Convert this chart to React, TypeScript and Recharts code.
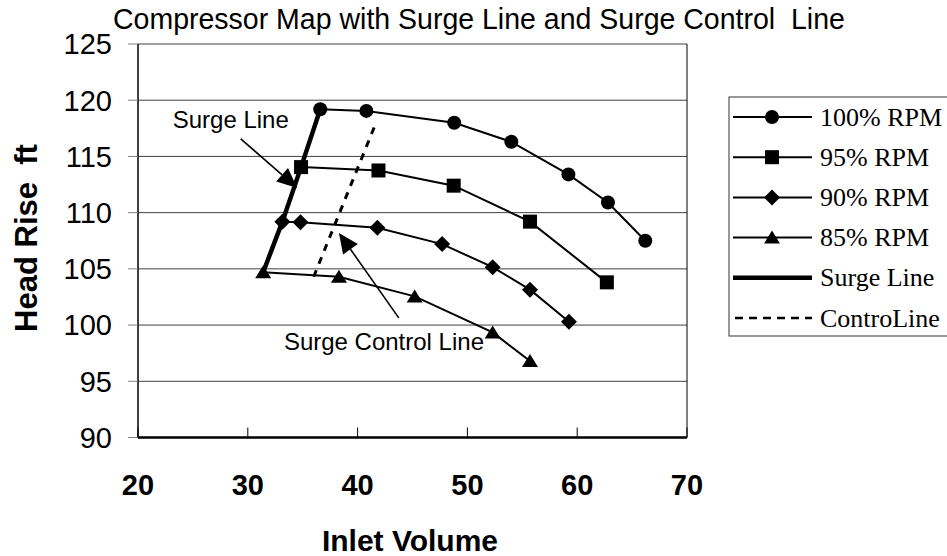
import React from "react";
import {
  CartesianGrid,
  ComposedChart,
  Line,
  ReferenceDot,
  ReferenceLine,
  XAxis,
  YAxis,
} from "recharts";

// axis ticks
const xTicks = [20, 30, 40, 50, 60, 70];
const yTicks = [90, 95, 100, 105, 110, 115, 120, 125];

// speed lines (inlet volume vs head rise)
const rpm100 = [
  { x: 36.6, y: 119.2 },
  { x: 40.8, y: 119.05 },
  { x: 48.8, y: 118.0 },
  { x: 54.0, y: 116.3 },
  { x: 59.2, y: 113.4 },
  { x: 62.8, y: 110.9 },
  { x: 66.2, y: 107.5 },
];
const rpm95 = [
  { x: 34.85, y: 114.05 },
  { x: 41.9, y: 113.75 },
  { x: 48.75, y: 112.4 },
  { x: 55.7, y: 109.2 },
  { x: 62.7, y: 103.8 },
];
const rpm90 = [
  { x: 33.15, y: 109.2 },
  { x: 34.8, y: 109.15 },
  { x: 41.8, y: 108.65 },
  { x: 47.7, y: 107.2 },
  { x: 52.3, y: 105.15 },
  { x: 55.7, y: 103.15 },
  { x: 59.25, y: 100.3 },
];
const rpm85 = [
  { x: 31.4, y: 104.7 },
  { x: 38.3, y: 104.3 },
  { x: 45.2, y: 102.55 },
  { x: 52.3, y: 99.35 },
  { x: 55.7, y: 96.8 },
];
const surgeLine = [
  { x: 31.4, y: 104.7 },
  { x: 33.15, y: 109.2 },
  { x: 34.85, y: 114.05 },
  { x: 36.6, y: 119.2 },
];
const controlLine = [
  { x: 36.0, y: 104.3 },
  { x: 41.6, y: 117.8 },
];

const seriesNames = ["100% RPM", "95% RPM", "90% RPM", "85% RPM", "Surge Line", "ControLine"];

// annotations: label position, arrow tail, arrow tip
const annotations = [
  { text: "Surge Line", at: { x: 28.45, y: 117.5 }, from: { x: 29.36, y: 116.56 }, to: { x: 34.5, y: 112.2 } },
  { text: "Surge Control Line", at: { x: 42.4, y: 97.8 }, from: { x: 43.75, y: 100.64 }, to: { x: 38.3, y: 108.2 } },
];

const SANS = '"Liberation Sans", Arial, sans-serif';
const SERIF = '"Liberation Serif", "Times New Roman", serif';

type MarkerKind = "circle" | "square" | "diamond" | "triangle";

function Marker({ kind, cx, cy }: { kind: MarkerKind; cx: number; cy: number }) {
  if (kind === "circle") return <circle cx={cx} cy={cy} r={7} fill="#000" />;
  if (kind === "square") return <rect x={cx - 7} y={cy - 7} width={14} height={14} fill="#000" />;
  if (kind === "diamond")
    return <polygon points={`${cx},${cy - 8} ${cx + 8},${cy} ${cx},${cy + 8} ${cx - 8},${cy}`} fill="#000" />;
  return <polygon points={`${cx},${cy - 7} ${cx + 8},${cy + 6} ${cx - 8},${cy + 6}`} fill="#000" />;
}

const dotOf = (kind: MarkerKind) => (p: any) =>
  <Marker key={`${kind}-${p.index}`} kind={kind} cx={p.cx} cy={p.cy} />;

const Arrow = (p: any) => {
  const { x1, y1, x2, y2 } = p;
  const dx = x2 - x1;
  const dy = y2 - y1;
  const len = Math.sqrt(dx * dx + dy * dy);
  const ux = dx / len;
  const uy = dy / len;
  const hl = 20;
  const hw = 9;
  const bx = x2 - ux * hl;
  const by = y2 - uy * hl;
  return (
    <g>
      <line x1={x1} y1={y1} x2={bx} y2={by} stroke="#000" strokeWidth={1.6} />
      <polygon
        points={`${x2},${y2} ${bx - uy * hw},${by + ux * hw} ${bx + uy * hw},${by - ux * hw}`}
        fill="#000"
      />
    </g>
  );
};

const XTick = (p: any) => {
  const { x, y, payload } = p;
  return (
    <g>
      <line x1={x} x2={x} y1={y} y2={y - 10} stroke="#000" strokeWidth={1} />
      <text x={x} y={y + 57} textAnchor="middle" fontSize={29} fontWeight="bold" fill="#000" fontFamily={SANS}>
        {payload.value}
      </text>
    </g>
  );
};

const legendKinds: (MarkerKind | "surge" | "control")[] = ["circle", "square", "diamond", "triangle", "surge", "control"];

function Overlay() {
  return (
    <svg width={947} height={556} style={{ position: "absolute", left: 0, top: 0, pointerEvents: "none" }}>
      <text
        transform="translate(113 29) scale(1 1.05)"
        fontSize={28.5}
        fontFamily={SANS}
        fill="#000"
        style={{ whiteSpace: "pre" }}
      >
        Compressor Map with Surge Line and Surge Control  Line
      </text>
      <text
        x={37}
        y={238}
        transform="rotate(-90 37 238)"
        textAnchor="middle"
        fontSize={31}
        fontWeight="bold"
        fontFamily={SANS}
        fill="#000"
        style={{ whiteSpace: "pre" }}
      >
        Head Rise  ft
      </text>
      <text x={410} y={551} textAnchor="middle" fontSize={30} fontWeight="bold" fontFamily={SANS} fill="#000">
        Inlet Volume
      </text>
      <rect x={729} y={97} width={240} height={239} fill="#fff" stroke="#333" strokeWidth={1} />
      {seriesNames.map((name, i) => {
        const cy = 117 + i * 40.2;
        const kind = legendKinds[i];
        return (
          <g key={name}>
            {kind === "surge" ? (
              <line x1={733} x2={812} y1={cy} y2={cy} stroke="#000" strokeWidth={4.5} />
            ) : kind === "control" ? (
              <line x1={735} x2={812} y1={cy} y2={cy} stroke="#000" strokeWidth={2.5} strokeDasharray="8 6" />
            ) : (
              <>
                <line x1={733} x2={812} y1={cy} y2={cy} stroke="#000" strokeWidth={2} />
                <Marker kind={kind} cx={772} cy={cy} />
              </>
            )}
            <text x={820} y={cy + 8.5} fontSize={26} fontFamily={SERIF} fill="#000">
              {name}
            </text>
          </g>
        );
      })}
    </svg>
  );
}

export default function App() {
  return (
    <div style={{ position: "absolute", left: 0, top: 0, width: 947, height: 556, background: "#fff" }}>
      <ComposedChart width={947} height={556} margin={{ top: 44, right: 260, left: 0, bottom: 0 }}>
        <CartesianGrid horizontal vertical={false} stroke="#404040" strokeWidth={1} />
        <XAxis
          type="number"
          dataKey="x"
          domain={[20, 70]}
          ticks={xTicks}
          allowDataOverflow
          height={118.5}
          tickSize={0}
          tickMargin={0}
          tickLine={false}
          tick={<XTick />}
          axisLine={{ stroke: "#000", strokeWidth: 2.5 }}
          interval={0}
        />
        <YAxis
          type="number"
          dataKey="y"
          domain={[90, 125]}
          ticks={yTicks}
          allowDataOverflow
          width={138}
          tickSize={10}
          tickMargin={16}
          interval={0}
          tickLine={{ stroke: "#808080" }}
          axisLine={{ stroke: "#000", strokeWidth: 1.5 }}
          tick={{ fontSize: 29, fill: "#000", fontFamily: SANS }}
        />
        <ReferenceLine x={70} stroke="#000" strokeWidth={1} />
        <Line data={controlLine} dataKey="y" type="linear" stroke="#000" strokeWidth={3} strokeDasharray="7 7" dot={false} isAnimationActive={false} />
        <Line data={surgeLine} dataKey="y" type="linear" stroke="#000" strokeWidth={4.5} dot={false} isAnimationActive={false} />
        <Line data={rpm100} dataKey="y" type="linear" stroke="#000" strokeWidth={2} dot={dotOf("circle")} isAnimationActive={false} />
        <Line data={rpm95} dataKey="y" type="linear" stroke="#000" strokeWidth={2} dot={dotOf("square")} isAnimationActive={false} />
        <Line data={rpm90} dataKey="y" type="linear" stroke="#000" strokeWidth={2} dot={dotOf("diamond")} isAnimationActive={false} />
        <Line data={rpm85} dataKey="y" type="linear" stroke="#000" strokeWidth={2} dot={dotOf("triangle")} isAnimationActive={false} />
        {annotations.map((a) => (
          <ReferenceLine key={`arrow-${a.text}`} segment={[a.from, a.to]} shape={<Arrow />} />
        ))}
        {annotations.map((a) => (
          <ReferenceDot
            key={`label-${a.text}`}
            x={a.at.x}
            y={a.at.y}
            r={0}
            shape={(p: any) => (
              <text x={p.cx} y={p.cy} textAnchor="middle" fontSize={24} fontFamily={SANS} fill="#000">
                {a.text}
              </text>
            )}
          />
        ))}
      </ComposedChart>
      <Overlay />
    </div>
  );
}
